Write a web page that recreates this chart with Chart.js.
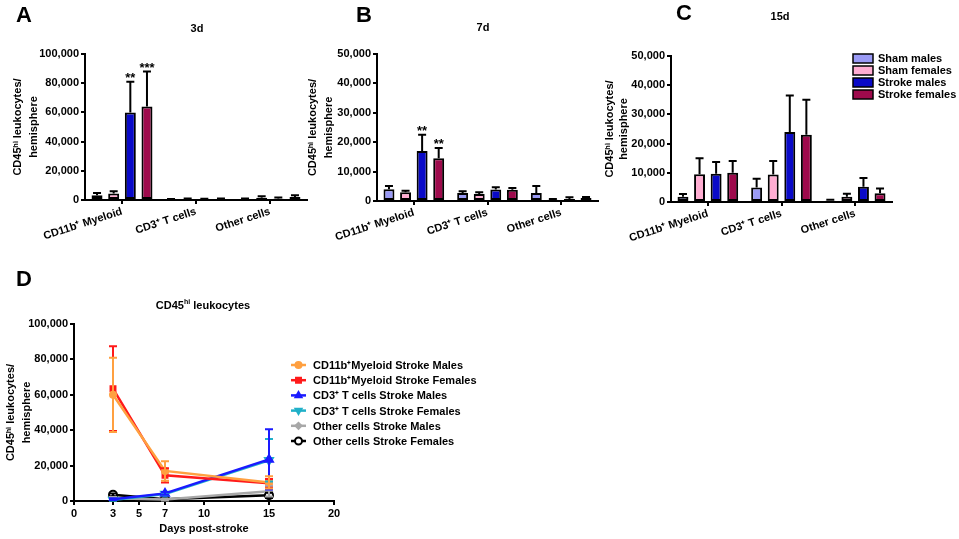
<!DOCTYPE html>
<html>
<head>
<meta charset="utf-8">
<script src="https://cdn.jsdelivr.net/npm/chart.js@4.4.1/dist/chart.umd.min.js"></script>
<style>
  body { margin: 0; background: #fff; }
  #fig { position: relative; width: 959px; height: 539px; overflow: hidden; font-family: 'Liberation Sans', Arial, sans-serif; }
  #fig canvas { position: absolute; }
  .letter { position: absolute; font-weight: bold; font-size: 22px; line-height: 1; }
  .ptitle { position: absolute; font-weight: bold; font-size: 11px; line-height: 1; white-space: nowrap; transform: translateX(-50%); }
  .ptitle sup { font-size: 7px; }
</style>
</head>
<body>
<div id="fig">
  <canvas id="chartA" width="320" height="260" style="left:0;top:0"></canvas>
  <canvas id="chartB" width="320" height="260" style="left:295px;top:0"></canvas>
  <canvas id="chartC" width="364" height="260" style="left:595px;top:0"></canvas>
  <canvas id="chartD" width="560" height="279" style="left:0;top:260px"></canvas>
  <div class="letter" style="left:16px;top:4px">A</div>
  <div class="letter" style="left:356px;top:4px">B</div>
  <div class="letter" style="left:676px;top:2px">C</div>
  <div class="letter" style="left:16px;top:268px">D</div>
  <div class="ptitle" style="left:197px;top:23px">3d</div>
  <div class="ptitle" style="left:483px;top:22px">7d</div>
  <div class="ptitle" style="left:780px;top:11px">15d</div>
  <div class="ptitle" style="left:203px;top:298px">CD45<sup>hi</sup> leukocytes</div>
</div>
<script>
// ---- data ----
const groups = ["CD11b⁺ Myeloid", "CD3⁺ T cells", "Other cells"];
const barSeries = ["Sham males", "Sham females", "Stroke males", "Stroke females"];
const barColors = ["#9a9af5", "#ffadd2", "#0a0ac8", "#9e0a4c"];

// rows = barSeries, cols = groups
const mean3d = [[3200, 200, 600], [4500, 500, 1500], [60000, 300, 900], [64000, 500, 2000]];
const top3d  = [[4800, 600, 1100], [6000, 1000, 2500], [81000, 800, 1700], [88000, 1000, 3200]];
const stars3d = [["", "", ""], ["", "", ""], ["**", "", ""], ["***", "", ""]];

const mean7d = [[4000, 2700, 2700], [3000, 2400, 400], [17000, 3900, 700], [14500, 3800, 1000]];
const top7d  = [[5100, 3300, 5100], [3500, 3000, 700], [22500, 4700, 1300], [18000, 4400, 1400]];
const stars7d = [["", "", ""], ["", "", ""], ["**", "", ""], ["**", "", ""]];

const mean15d = [[1800, 5000, 400], [9500, 9400, 1800], [9700, 24000, 5200], [10000, 23000, 3000]];
const top15d  = [[2700, 8000, 800], [15000, 14000, 2800], [13700, 36500, 8200], [14000, 35000, 4600]];

const days = [3, 7, 15];
const dayTicks = [0, 3, 5, 7, 10, 15, 20];
const lineNames = [
  "CD11b⁺Myeloid Stroke Males", "CD11b⁺Myeloid Stroke Females",
  "CD3⁺ T cells Stroke Males", "CD3⁺ T cells Stroke Females",
  "Other cells Stroke Males", "Other cells Stroke Females"
];
const myeloidM = [60000, 17000, 10500], myeloidMErr = [21000, 5500, 3500];
const myeloidF = [63500, 14500, 10000], myeloidFErr = [24000, 4000, 2500];
const tcellM = [1000, 4300, 23500], tcellMErr = [500, 800, 17000];
const tcellF = [600, 3900, 23000], tcellFErr = [400, 700, 12000];
const otherM = [1500, 800, 5500], otherMErr = [700, 500, 3000];
const otherF = [3500, 1000, 3200], otherFErr = [800, 400, 1500];

const FONT = "'Liberation Sans', Arial, sans-serif";
Chart.defaults.font.family = FONT;
Chart.defaults.color = "#000";

const yTitle = ["CD45ʰⁱ leukocytes/", "hemisphere"];

// error bars (one-sided, black) + significance stars for the bar panels
const barErrors = {
  id: "barErrors",
  afterDatasetsDraw(chart) {
    const ctx = chart.ctx, y = chart.scales.y;
    ctx.save();
    ctx.strokeStyle = "#000";
    ctx.lineWidth = 2;
    ctx.fillStyle = "#000";
    ctx.font = "bold 13px " + FONT;
    ctx.textAlign = "center";
    ctx.textBaseline = "bottom";
    chart.data.datasets.forEach((ds, i) => {
      chart.getDatasetMeta(i).data.forEach((bar, j) => {
        const t = y.getPixelForValue(ds.errTop[j]);
        ctx.beginPath();
        ctx.moveTo(bar.x, bar.y);
        ctx.lineTo(bar.x, t);
        ctx.moveTo(bar.x - 4, t);
        ctx.lineTo(bar.x + 4, t);
        ctx.stroke();
        if (ds.stars && ds.stars[j]) ctx.fillText(ds.stars[j], bar.x, t + 3);
      });
    });
    ctx.restore();
  }
};

// box legend for panel C
const boxLegend = {
  id: "boxLegend",
  afterDraw(chart, args, opts) {
    if (!opts.show) return;
    const ctx = chart.ctx;
    ctx.save();
    ctx.font = "bold 11px " + FONT;
    ctx.textBaseline = "middle";
    chart.data.datasets.forEach((ds, i) => {
      const cy = opts.y + i * opts.step;
      ctx.fillStyle = ds.backgroundColor;
      ctx.fillRect(opts.x, cy - 4, 20, 9);
      ctx.strokeStyle = "#000";
      ctx.lineWidth = 1.5;
      ctx.strokeRect(opts.x, cy - 4, 20, 9);
      ctx.fillStyle = "#000";
      ctx.fillText(ds.label, opts.x + 25, cy + 1);
    });
    ctx.restore();
  }
};

function barPanel(id, means, tops, stars, yMax, step, yWidth, pad, legend) {
  return new Chart(document.getElementById(id), {
    type: "bar",
    data: {
      labels: groups,
      datasets: barSeries.map((name, i) => ({
        label: name,
        data: means[i],
        errTop: tops[i],
        stars: stars ? stars[i] : null,
        backgroundColor: barColors[i],
        borderColor: "#000",
        borderWidth: 2,
        borderSkipped: false,
        categoryPercentage: 0.9,
        barPercentage: 0.66
      }))
    },
    options: {
      responsive: false,
      animation: false,
      layout: { padding: { top: pad.top, right: pad.right, left: 0, bottom: 0 } },
      plugins: { legend: { display: false }, tooltip: { enabled: false }, boxLegend: legend || { show: false } },
      scales: {
        x: {
          ticks: { font: { size: 11, weight: "bold" }, color: "#000", minRotation: 18, maxRotation: 18, padding: 1, autoSkip: false },
          grid: { drawOnChartArea: false, offset: false, color: "#000", lineWidth: 2, tickLength: 4 },
          border: { color: "#000", width: 2 },
          afterFit: s => { s.height = pad.xh; }
        },
        y: {
          min: 0, max: yMax,
          ticks: { stepSize: step, font: { size: 11, weight: "bold" }, color: "#000", padding: 2,
                   callback: v => v.toLocaleString("en-US") },
          grid: { drawOnChartArea: false, color: "#000", lineWidth: 2, tickLength: 4 },
          border: { color: "#000", width: 2 },
          title: { display: true, text: yTitle, color: "#000",
                   font: { size: 11, weight: "bold", lineHeight: pad.lh }, padding: { top: pad.tt, bottom: 0 } },
          afterFit: s => { s.width = yWidth; }
        }
      }
    },
    plugins: [barErrors, boxLegend]
  });
}

barPanel("chartA", mean3d, top3d, stars3d, 100000, 20000, 85, { top: 54, right: 13, xh: 60, lh: 1.45, tt: 10 });
barPanel("chartB", mean7d, top7d, stars7d, 50000, 10000, 82, { top: 54, right: 17, xh: 59, lh: 1.45, tt: 10 });
barPanel("chartC", mean15d, top15d, null, 50000, 10000, 76, { top: 56, right: 67, xh: 58, lh: 1.3, tt: 8 },
         { show: true, x: 258, y: 58, step: 12 });

// ---- panel D ----
const lineStyles = [
  { color: "#ffa040", point: "circle", r: 3 },
  { color: "#ff1a1a", point: "rect", r: 3.5 },
  { color: "#1a1aff", point: "triangle", r: 4.5 },
  { color: "#20b0c8", point: "triangle", r: 4.5, rot: 180 },
  { color: "#a8a8a8", point: "rectRot", r: 3 },
  { color: "#000000", point: "circle", r: 4, fill: "#fff" }
];
const lineVals = [myeloidM, myeloidF, tcellM, tcellF, otherM, otherF];
const lineErrs = [myeloidMErr, myeloidFErr, tcellMErr, tcellFErr, otherMErr, otherFErr];

const lineErrors = {
  id: "lineErrors",
  afterDatasetsDraw(chart) {
    const ctx = chart.ctx, y = chart.scales.y;
    ctx.save();
    ctx.lineWidth = 2;
    for (let i = chart.data.datasets.length - 1; i >= 0; i--) {
      const ds = chart.data.datasets[i];
      ctx.strokeStyle = ds.borderColor;
      chart.getDatasetMeta(i).data.forEach((pt, j) => {
        const v = ds.data[j].y, e = ds.err[j];
        const hi = y.getPixelForValue(v + e), lo = y.getPixelForValue(v - e);
        ctx.beginPath();
        ctx.moveTo(pt.x, lo); ctx.lineTo(pt.x, hi);
        ctx.moveTo(pt.x - 4, hi); ctx.lineTo(pt.x + 4, hi);
        ctx.moveTo(pt.x - 4, lo); ctx.lineTo(pt.x + 4, lo);
        ctx.stroke();
      });
    }
    ctx.restore();
  }
};

const lineLegend = {
  id: "lineLegend",
  afterDraw(chart, args, opts) {
    const ctx = chart.ctx;
    ctx.save();
    ctx.font = "bold 11px " + FONT;
    ctx.textBaseline = "middle";
    chart.data.datasets.forEach((ds, i) => {
      const cy = opts.y + i * opts.step;
      ctx.strokeStyle = ds.borderColor;
      ctx.lineWidth = 2.5;
      ctx.beginPath();
      ctx.moveTo(opts.x, cy); ctx.lineTo(opts.x + 15, cy);
      ctx.stroke();
      ctx.fillStyle = ds.pointBackgroundColor;
      ctx.lineWidth = ds.pointBorderWidth;
      Chart.helpers.drawPoint(ctx, { pointStyle: ds.pointStyle, rotation: ds.pointRotation || 0,
        radius: Math.min(ds.pointRadius, 3.5), borderWidth: ds.pointBorderWidth }, opts.x + 7.5, cy);
      ctx.fillStyle = "#000";
      ctx.fillText(ds.label, opts.x + 22, cy + 1);
    });
    ctx.restore();
  }
};

new Chart(document.getElementById("chartD"), {
  type: "line",
  data: {
    datasets: lineNames.map((name, i) => ({
      label: name,
      data: days.map((d, j) => ({ x: d, y: lineVals[i][j] })),
      err: lineErrs[i],
      borderColor: lineStyles[i].color,
      borderWidth: 2.5,
      pointStyle: lineStyles[i].point,
      pointRadius: lineStyles[i].r,
      pointRotation: lineStyles[i].rot || 0,
      pointBackgroundColor: lineStyles[i].fill || lineStyles[i].color,
      pointBorderColor: lineStyles[i].color,
      pointBorderWidth: 2,
      tension: 0,
      fill: false
    }))
  },
  options: {
    responsive: false,
    animation: false,
    layout: { padding: { top: 64, right: 226, left: 0, bottom: 0 } },
    plugins: { legend: { display: false }, tooltip: { enabled: false }, lineLegend: { x: 291, y: 105, step: 15.2 } },
    scales: {
      x: {
        type: "linear", min: 0, max: 20,
        afterBuildTicks: s => { s.ticks = dayTicks.map(v => ({ value: v })); },
        ticks: { font: { size: 11, weight: "bold" }, color: "#000", padding: 2, maxRotation: 0 },
        grid: { drawOnChartArea: false, color: "#000", lineWidth: 2, tickLength: 4 },
        border: { color: "#000", width: 2 },
        title: { display: true, text: "Days post-stroke", color: "#000", font: { size: 11, weight: "bold" }, padding: { top: 0, bottom: 3 } },
        afterFit: s => { s.height = 38; }
      },
      y: {
        min: 0, max: 100000,
        ticks: { stepSize: 20000, font: { size: 11, weight: "bold" }, color: "#000", padding: 2,
                 callback: v => v.toLocaleString("en-US") },
        grid: { drawOnChartArea: false, color: "#000", lineWidth: 2, tickLength: 4 },
        border: { color: "#000", width: 2 },
        title: { display: true, text: yTitle, color: "#000",
                 font: { size: 11, weight: "bold", lineHeight: 1.45 }, padding: { top: 3, bottom: 0 } },
        afterFit: s => { s.width = 74; }
      }
    }
  },
  plugins: [lineErrors, lineLegend]
});
</script>
</body>
</html>
